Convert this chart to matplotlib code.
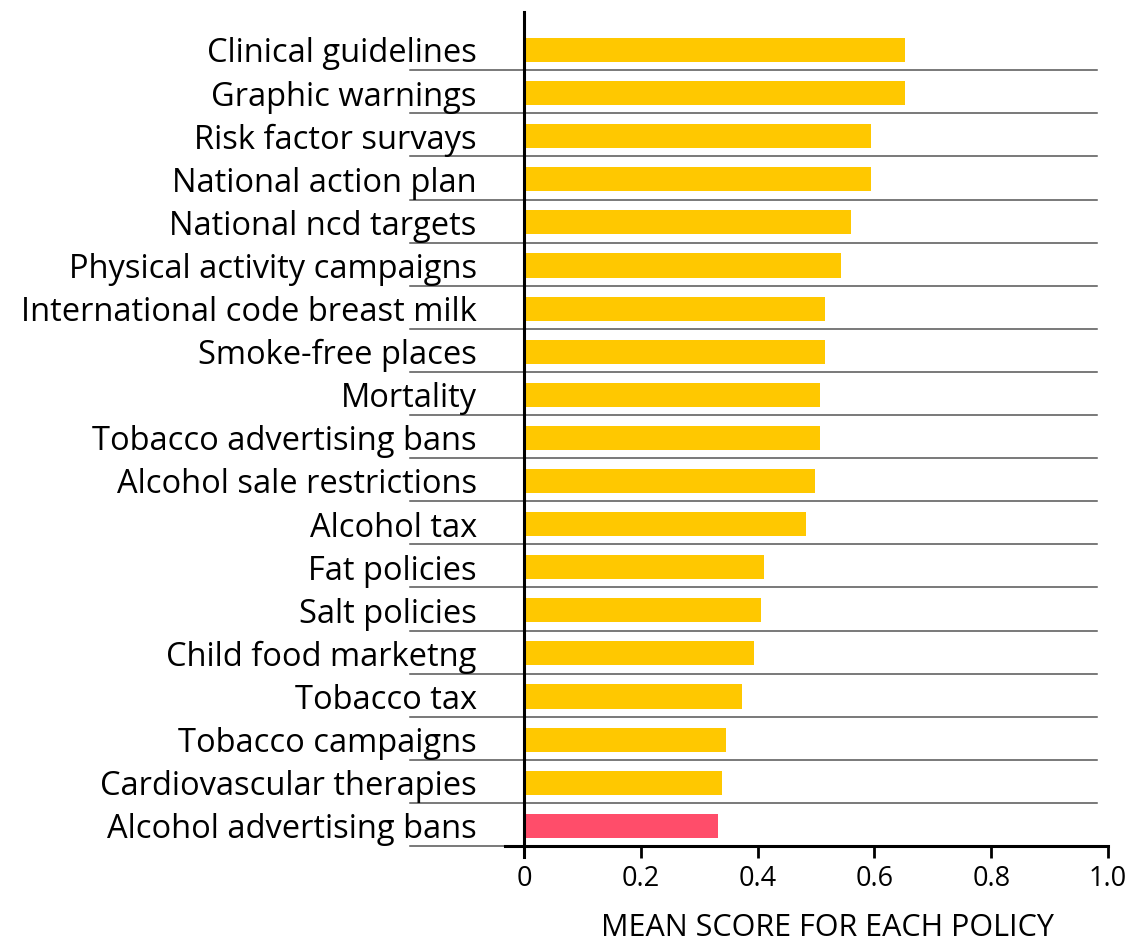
import matplotlib.pyplot as plt

plt.rcParams['font.family'] = ['Open Sans', 'DejaVu Sans']

policies = ["Clinical guidelines", "Graphic warnings", "Risk factor survays",
            "National action plan", "National ncd targets", "Physical activity campaigns",
            "International code breast milk", "Smoke-free places", "Mortality",
            "Tobacco advertising bans", "Alcohol sale restrictions", "Alcohol tax",
            "Fat policies", "Salt policies", "Child food marketng", "Tobacco tax",
            "Tobacco campaigns", "Cardiovascular therapies", "Alcohol advertising bans"]
scores = [0.652, 0.652, 0.594, 0.594, 0.560, 0.543, 0.515, 0.515, 0.507, 0.507,
          0.498, 0.483, 0.411, 0.406, 0.394, 0.373, 0.346, 0.339, 0.332]
highlight = "Alcohol advertising bans"
xticks = [0, 0.2, 0.4, 0.6, 0.8, 1.0]
xticklabels = ["0", "0.2", "0.4", "0.6", "0.8", "1.0"]

fig = plt.figure(figsize=(11.33, 9.41), dpi=100)
ax = fig.add_axes([0.4625, 0.1, 0.5155, 0.8872])

ypos = list(range(len(policies)))
colors = ["#FF4D6A" if p == highlight else "#FFC800" for p in policies]
ax.barh(ypos, scores, height=0.56, color=colors, zorder=2)

ax.set_xlim(0, 1)
ax.set_ylim(len(policies) - 1 + 0.49, -0.88)

# grey separators under each row
for y in ypos:
    ax.plot([-0.195, 0.981], [y + 0.47, y + 0.47], color="#555555", lw=1.1,
            clip_on=False, zorder=1)

for s in ax.spines.values():
    s.set_visible(False)

# axis lines drawn by hand
ybot = len(policies) - 1 + 0.47
ax.plot([-0.033, 1.0], [ybot, ybot], color="black", lw=2.2, clip_on=False, zorder=3)
ax.plot([0, 0], [-0.88, ybot + 0.25], color="black", lw=2.2, clip_on=False, zorder=3)

ax.set_yticks(ypos)
ax.set_yticklabels(policies, fontsize=23.5)
ax.tick_params(axis="y", length=0, pad=34)

ax.set_xticks(xticks)
ax.set_xticklabels(xticklabels, fontsize=19.5)
ax.tick_params(axis="x", length=8, width=2, pad=5, direction="out")
ax.xaxis.set_ticks_position("bottom")

ax.text(0.52, -0.097, "MEAN SCORE FOR EACH POLICY", transform=ax.transAxes,
        ha="center", va="center", fontsize=22)

fig.savefig("out.png", dpi=100)
